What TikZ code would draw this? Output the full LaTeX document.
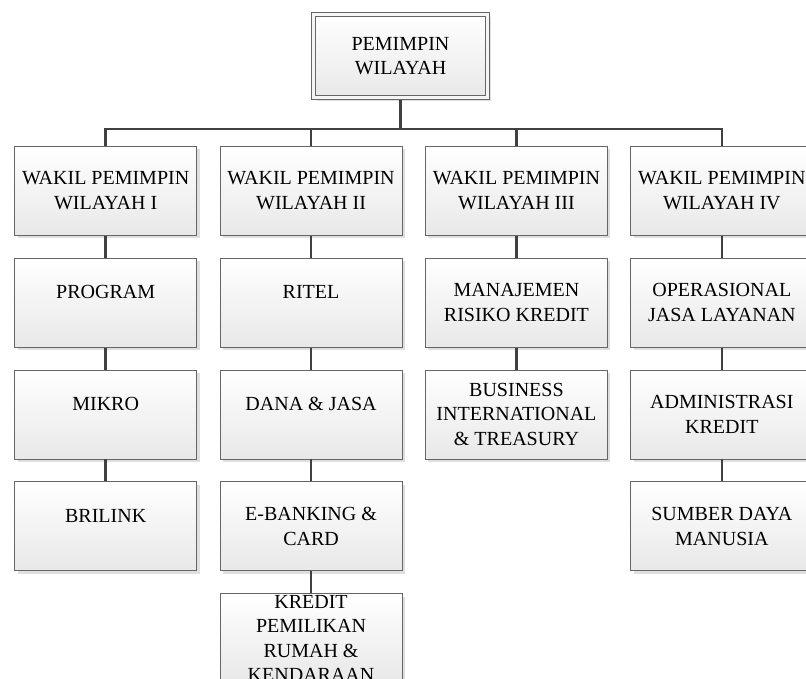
\documentclass[tikz,border=0pt]{standalone}
\usepackage{fontspec}
\setmainfont{Liberation Serif}
\usetikzlibrary{matrix,shadows}

\begin{document}
\begin{tikzpicture}[
  orgbox/.style={draw=black!60, line width=0.9pt, top color=white, bottom color=black!9,
    drop shadow={shadow xshift=3pt, shadow yshift=-3pt, fill=black!25},
    minimum width=182pt, minimum height=89pt, inner sep=0pt, align=center,
    font=\fontsize{20}{24.5}\selectfont},
  link/.style={draw=black!75, line width=2.4pt}]
\useasboundingbox (0,0) rectangle (806pt,-679pt);
\node[orgbox, double=black!4, double distance=3pt, outer sep=2.4pt,
  minimum width=174pt, minimum height=83.5pt] (pw) at (400.5pt,-56pt) {PEMIMPIN\\WILAYAH};
\matrix (m) [anchor=north west, inner sep=0pt, column sep=22.5pt, row sep=22pt, nodes={orgbox}] at (14pt,-145.5pt)
{
  \node (wk1) {WAKIL PEMIMPIN\\WILAYAH I}; & \node (wk2) {WAKIL PEMIMPIN\\WILAYAH II}; & \node (wk3) {WAKIL PEMIMPIN\\WILAYAH III}; & \node (wk4) {WAKIL PEMIMPIN\\WILAYAH IV}; \\
  \node (prg) {PROGRAM\\[-4pt]\mbox{}}; & \node (rtl) {RITEL\\[-4pt]\mbox{}}; & \node (mrk) {MANAJEMEN\\RISIKO KREDIT}; & \node (ojl) {OPERASIONAL\\JASA LAYANAN}; \\
  \node (mik) {MIKRO\\[-4pt]\mbox{}}; & \node (dnj) {DANA \& JASA\\[-4pt]\mbox{}}; & \node (bit) {BUSINESS\\INTERNATIONAL\\\& TREASURY}; & \node (adk) {ADMINISTRASI\\KREDIT}; \\
  \node (brl) {BRILINK\\[-4pt]\mbox{}}; & \node (ebk) {E-BANKING \&\\CARD}; & & \node (sdm) {SUMBER DAYA\\MANUSIA}; \\
  & \node (kpr) {KREDIT\\PEMILIKAN\\RUMAH \&\\KENDARAAN}; & & \\
};
\coordinate (bar) at ([yshift=-29pt]pw.south);
\draw[link] (pw) -- (bar);
\draw[link] (wk1) |- (bar) -| (wk4);
\draw[link] (bar -| wk2) -- (wk2);
\draw[link] (bar -| wk3) -- (wk3);
\draw[link] (wk1) -- (prg) -- (mik) -- (brl);
\draw[link] (wk2) -- (rtl) -- (dnj) -- (ebk) -- (kpr);
\draw[link] (wk3) -- (mrk) -- (bit);
\draw[link] (wk4) -- (ojl) -- (adk) -- (sdm);
\end{tikzpicture}
\end{document}
